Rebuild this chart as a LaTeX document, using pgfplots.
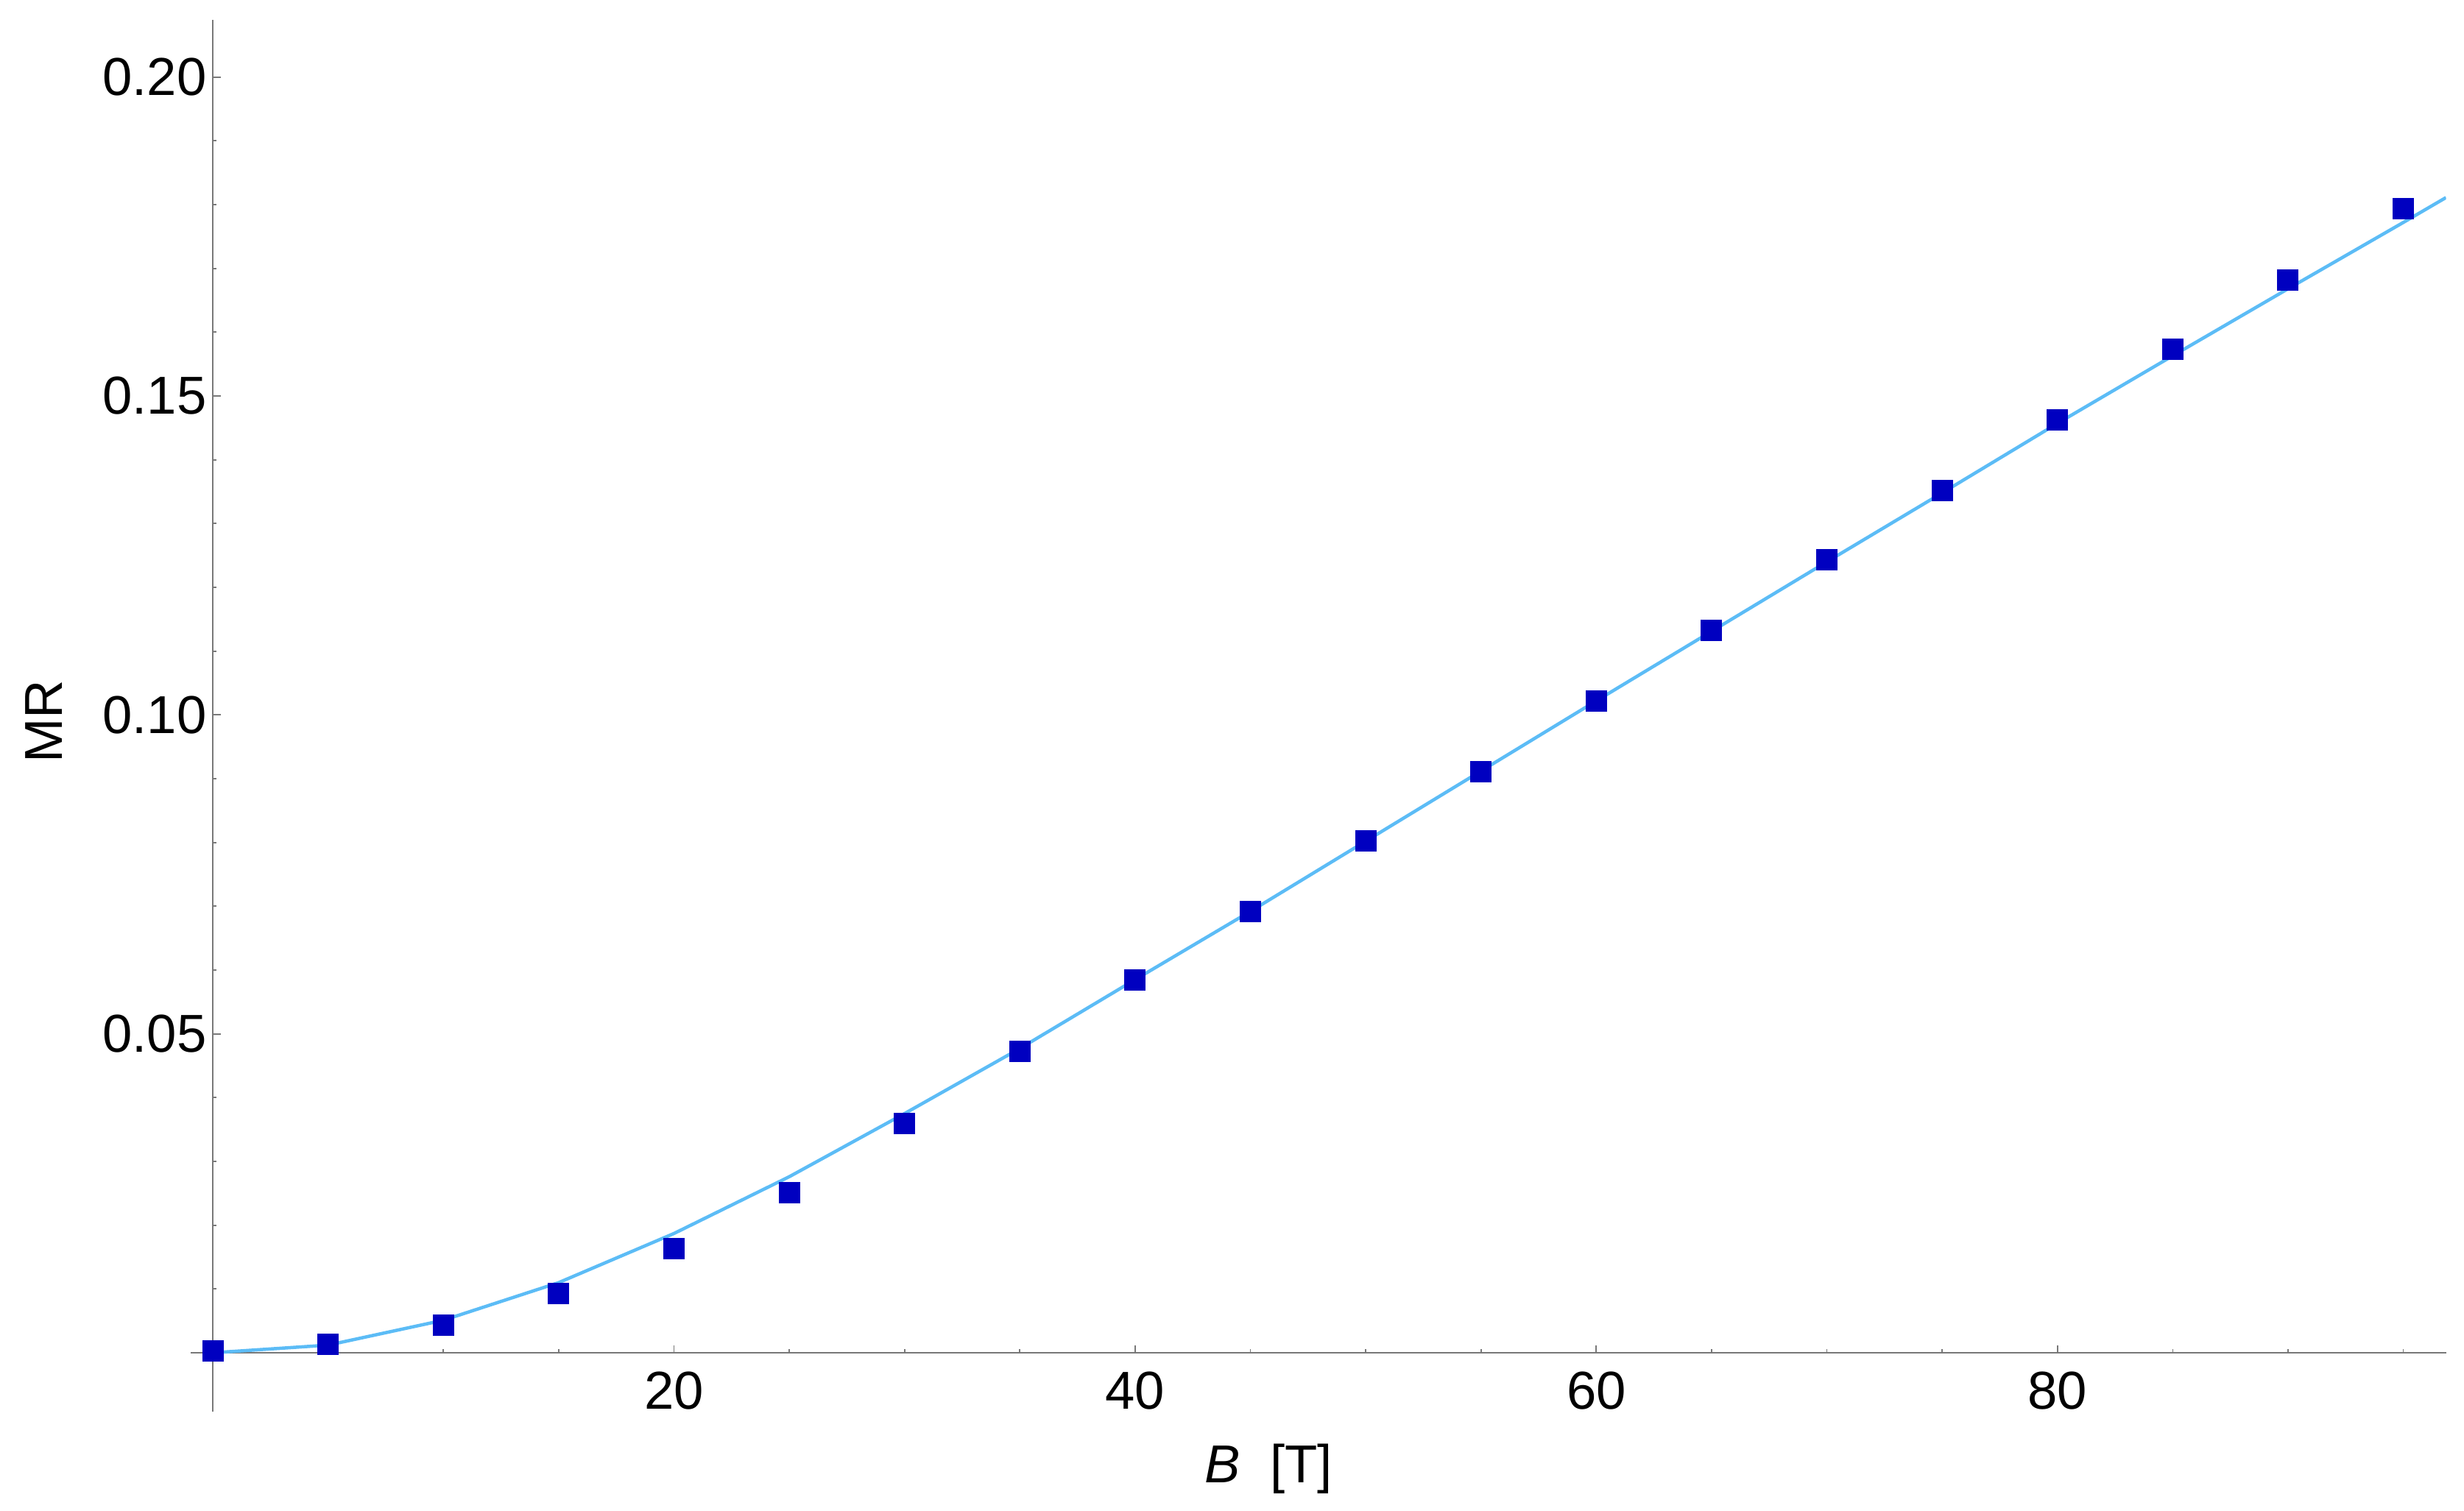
\documentclass[border=0pt]{standalone}
\usepackage{fontspec}
\setmainfont{Liberation Sans}
\usepackage{pgfplots}
\pgfplotsset{compat=1.18}
\definecolor{curve}{RGB}{92,188,246}
\definecolor{pts}{RGB}{0,0,192}
\definecolor{axgray}{RGB}{120,120,120}

\begin{document}
\begin{tikzpicture}
\begin{axis}[
  name=ax,
  scale only axis,
  width=612.7pt, height=378.1pt,
  xmin=-0.96, xmax=96.85,
  ymin=-0.00923, ymax=0.2089,
  axis lines=middle,
  axis line style={axgray, line width=0.35pt},
  every inner x axis line/.append style={-},
  every inner y axis line/.append style={-},
  xtick={20,40,60,80},
  minor xtick={5,10,15,25,30,35,45,50,55,65,70,75,85,90,95},
  ytick={0.05,0.10,0.15,0.20},
  minor ytick={0.01,0.02,0.03,0.04,0.06,0.07,0.08,0.09,0.11,0.12,0.13,0.14,0.16,0.17,0.18,0.19},
  tick align=inside,
  major tick length=2.1pt, minor tick length=1pt,
  tick style={axgray, line width=0.35pt},
  tick label style={font=\fontsize{14.5}{17}\selectfont},
  /pgf/number format/assume math mode=true,
  yticklabel style={/pgf/number format/fixed, /pgf/number format/fixed zerofill, /pgf/number format/precision=2, xshift=1.8pt},
  xticklabel style={yshift=-1.7pt},
  xlabel={\textit{B}\hspace{0.55em}[T]},
  ylabel={MR},
  label style={font=\fontsize{14.5}{17}\selectfont},
  xlabel style={at={(rel axis cs:0.478,-0.0413)}, anchor=center},
  ylabel style={at={(rel axis cs:-0.065,0.496)}, anchor=center, rotate=90},
]
\addplot[curve, line width=0.9pt, mark=none] coordinates {
(0,0) (5,0.0012) (10,0.0051) (15,0.0110) (20,0.0187) (25,0.0276) (30,0.0375)
(35,0.0477) (40,0.0585) (45,0.0692) (50,0.0802) (55,0.0912) (60,0.1022)
(65,0.1131) (70,0.1240) (75,0.1348) (80,0.1457) (85,0.1563) (90,0.1668)
(95,0.1772) (96.85,0.1811)
};
\addplot[only marks, mark=square*, mark size=2.8pt, mark options={fill=pts, draw=pts, line width=0pt}] coordinates {
(0,0.0003) (5,0.0013) (10,0.0043) (15,0.0093) (20,0.0163) (25,0.0251) (30,0.0360)
(35,0.0472) (40,0.0584) (45,0.0692) (50,0.0802) (55,0.0911) (60,0.1022)
(65,0.1132) (70,0.1243) (75,0.1352) (80,0.1462) (85,0.1573) (90,0.1682) (95,0.1794)
};
\end{axis}
\path (ax.south west) ++(-51.8pt,-26.8pt) rectangle ++(669.4pt,410.4pt);
\end{tikzpicture}
\end{document}
